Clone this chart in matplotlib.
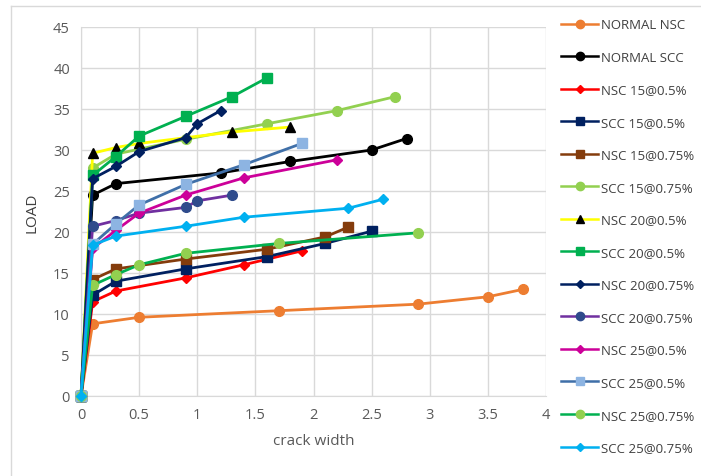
import matplotlib.pyplot as plt
from matplotlib.lines import Line2D

plt.rcParams['font.family'] = ['Open Sans', 'DejaVu Sans']

# crack width (x) and load (y) per series
normal_nsc_x = [0, 0.1, 0.5, 1.7, 2.9, 3.5, 3.8]
normal_nsc_y = [0, 8.8, 9.6, 10.4, 11.2, 12.1, 13.0]
normal_scc_x = [0, 0.1, 0.3, 1.2, 1.8, 2.5, 2.8]
normal_scc_y = [0, 24.5, 25.9, 27.2, 28.6, 30.0, 31.4]
nsc15_05_x = [0, 0.1, 0.3, 0.9, 1.4, 1.9]
nsc15_05_y = [0, 11.5, 12.8, 14.4, 16.0, 17.7]
scc15_05_x = [0, 0.1, 0.3, 0.9, 1.6, 2.1, 2.5]
scc15_05_y = [0, 12.3, 14.0, 15.5, 17.0, 18.6, 20.1]
nsc15_075_x = [0, 0.1, 0.3, 0.9, 1.6, 2.1, 2.3]
nsc15_075_y = [0, 14.2, 15.5, 16.7, 17.9, 19.4, 20.6]
scc15_075_x = [0, 0.1, 0.3, 0.9, 1.6, 2.2, 2.7]
scc15_075_y = [0, 27.8, 29.5, 31.3, 33.2, 34.8, 36.5]
nsc20_05_x = [0, 0.1, 0.3, 0.5, 1.3, 1.8]
nsc20_05_y = [0, 29.6, 30.3, 30.8, 32.2, 32.8]
scc20_05_x = [0, 0.1, 0.3, 0.5, 0.9, 1.3, 1.6]
scc20_05_y = [0, 26.9, 29.2, 31.7, 34.1, 36.5, 38.8]
nsc20_075_x = [0, 0.1, 0.3, 0.5, 0.9, 1.0, 1.2]
nsc20_075_y = [0, 26.5, 28.0, 29.8, 31.5, 33.2, 34.8]
scc20_075_x = [0, 0.1, 0.3, 0.5, 0.9, 1.0, 1.3]
scc20_075_y = [0, 20.7, 21.4, 22.3, 23.0, 23.8, 24.5]
nsc25_05_x = [0, 0.1, 0.3, 0.5, 0.9, 1.4, 2.2]
nsc25_05_y = [0, 18.0, 20.2, 22.3, 24.5, 26.6, 28.8]
scc25_05_x = [0, 0.1, 0.3, 0.5, 0.9, 1.4, 1.9]
scc25_05_y = [0, 18.5, 21.0, 23.3, 25.8, 28.2, 30.8]
nsc25_075_x = [0, 0.1, 0.3, 0.5, 0.9, 1.7, 2.9]
nsc25_075_y = [0, 13.5, 14.8, 16.0, 17.4, 18.6, 19.9]
scc25_075_x = [0, 0.1, 0.3, 0.9, 1.4, 2.3, 2.6]
scc25_075_y = [0, 18.4, 19.5, 20.7, 21.8, 22.9, 24.0]

x_ticks = [0, 0.5, 1, 1.5, 2, 2.5, 3, 3.5, 4]
x_tick_labels = ['0', '0.5', '1', '1.5', '2', '2.5', '3', '3.5', '4']
y_ticks = [0, 5, 10, 15, 20, 25, 30, 35, 40, 45]

# (label, x, y, line colour, marker, marker colour, marker size)
series = [
    ('NORMAL NSC', normal_nsc_x, normal_nsc_y, '#ED7D31', 'o', '#ED7D31', 7),
    ('NORMAL SCC', normal_scc_x, normal_scc_y, '#000000', 'o', '#000000', 7),
    ('NSC 15@0.5%', nsc15_05_x, nsc15_05_y, '#FF0000', 'D', '#FF0000', 5.5),
    ('SCC 15@0.5%', scc15_05_x, scc15_05_y, '#002060', 's', '#002060', 7),
    ('NSC 15@0.75%', nsc15_075_x, nsc15_075_y, '#843C0C', 's', '#843C0C', 7),
    ('SCC 15@0.75%', scc15_075_x, scc15_075_y, '#92D050', 'o', '#92D050', 7),
    ('NSC 20@0.5%', nsc20_05_x, nsc20_05_y, '#FFFF00', '^', '#000000', 7),
    ('SCC 20@0.5%', scc20_05_x, scc20_05_y, '#00B050', 's', '#00B050', 7),
    ('NSC 20@0.75%', nsc20_075_x, nsc20_075_y, '#002060', 'D', '#002060', 5.5),
    ('SCC 20@0.75%', scc20_075_x, scc20_075_y, '#7030A0', 'o', '#2F4B8C', 7),
    ('NSC 25@0.5%', nsc25_05_x, nsc25_05_y, '#CC0099', 'D', '#CC0099', 5.5),
    ('SCC 25@0.5%', scc25_05_x, scc25_05_y, '#3F6FA8', 's', '#8DB4E2', 7),
    ('NSC 25@0.75%', nsc25_075_x, nsc25_075_y, '#00B050', 'o', '#92D050', 7),
    ('SCC 25@0.75%', scc25_075_x, scc25_075_y, '#00B0F0', 'D', '#00B0F0', 5.5),
]

fig = plt.figure(figsize=(7.01, 4.77), dpi=100)
ax = fig.add_axes([81 / 701, 80 / 477, 465 / 701, 369 / 477])

handles = []
for label, xs, ys, lc, mk, mc, ms in series:
    ax.plot(xs, ys, color=lc, lw=2, marker=mk, ms=ms, mfc=mc, mec=mc, zorder=3,
            clip_on=False)
    handles.append(Line2D([], [], color=lc, lw=1.8, marker=mk, ms=ms - 1,
                          mfc=mc, mec=mc, label=label))

ax.set_xlim(0, 4)
ax.set_ylim(0, 45)
ax.set_xticks(x_ticks)
ax.set_xticklabels(x_tick_labels)
ax.set_yticks(y_ticks)
ax.grid(True, color='#D9D9D9', lw=1)
ax.set_axisbelow(True)
for s in ['top', 'right']:
    ax.spines[s].set_visible(False)
for s in ['left', 'bottom']:
    ax.spines[s].set_color('#D9D9D9')
ax.tick_params(length=0, labelsize=10.5, colors='#595959', pad=8)
ax.set_xlabel('crack width', fontsize=11, color='#595959', labelpad=8)
ax.set_ylabel('LOAD', fontsize=11, color='#404040', labelpad=10)

fig.legend(handles=handles, loc='upper left', bbox_to_anchor=(556 / 701, 1 - 14 / 477),
           frameon=False, fontsize=9.5, labelcolor='#404040', handlelength=2.8,
           handletextpad=0.2, labelspacing=1.48, borderaxespad=0)

# outer chart frame
fig.add_artist(Line2D([11 / 701, 11 / 701], [0, 1 - 7 / 477], color='#D9D9D9', lw=1,
                      transform=fig.transFigure))
fig.add_artist(Line2D([11 / 701, 1], [1 - 7 / 477, 1 - 7 / 477], color='#D9D9D9', lw=1,
                      transform=fig.transFigure))

fig.savefig('out.png', dpi=100)
